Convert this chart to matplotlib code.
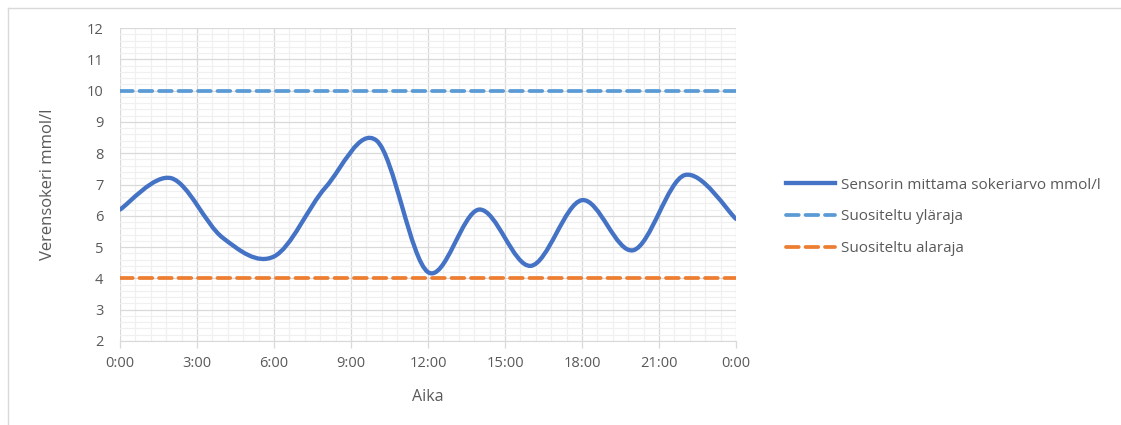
import matplotlib
matplotlib.use('Agg')
import matplotlib.pyplot as plt
import matplotlib.ticker as mticker
from matplotlib.path import Path
from matplotlib.patches import PathPatch
from matplotlib.lines import Line2D
import numpy as np

# --- data ---
tunnit = [0, 2, 4, 6, 8, 10, 12, 14, 16, 18, 20, 22, 24]
sokeri = [6.2, 7.2, 5.3, 4.7, 6.9, 8.4, 4.2, 6.2, 4.4, 6.5, 4.9, 7.3, 5.9]
ylaraja = [10, 10]
alaraja = [4, 4]
raja_x = [0, 24]
x_ticks = [0, 3, 6, 9, 12, 15, 18, 21, 24]
x_labels = ['0:00', '3:00', '6:00', '9:00', '12:00', '15:00', '18:00', '21:00', '0:00']

SININEN = '#4472C4'
VAALEA = '#5B9BD5'
ORANSSI = '#ED7D31'
TEKSTI = '#595959'

plt.rcParams['font.family'] = ['Open Sans', 'DejaVu Sans']

fig = plt.figure(figsize=(11.21, 4.25), dpi=100)
ax = fig.add_axes([120 / 1121, 1 - 341 / 425, 616 / 1121, 313 / 425])

# Excel-tyylinen pehmennetty viiva bezier-käyrinä
pts = np.column_stack([tunnit, sokeri])
verts = [tuple(pts[0])]
codes = [Path.MOVETO]
n = len(pts)
for i in range(n - 1):
    p0 = pts[max(i - 1, 0)]
    p1 = pts[i]
    p2 = pts[i + 1]
    p3 = pts[min(i + 2, n - 1)]
    c1 = p1 + (p2 - p0) / 6
    c2 = p2 - (p3 - p1) / 6
    verts += [tuple(c1), tuple(c2), tuple(p2)]
    codes += [Path.CURVE4] * 3
ax.add_patch(PathPatch(Path(verts, codes), fill=False, edgecolor=SININEN,
                       linewidth=3.1, capstyle='round', joinstyle='round', zorder=3))

ax.plot(raja_x, ylaraja, color=VAALEA, linewidth=2.7, dashes=(3.4, 1.8),
        dash_capstyle='round', zorder=2)
ax.plot(raja_x, alaraja, color=ORANSSI, linewidth=2.7, dashes=(3.4, 1.8),
        dash_capstyle='round', zorder=2)

ax.set_xlim(0, 24)
ax.set_ylim(2, 12)
ax.set_xticks(x_ticks)
ax.set_xticklabels(x_labels)
ax.set_yticks(range(2, 13))
ax.xaxis.set_minor_locator(mticker.MultipleLocator(0.6))
ax.yaxis.set_minor_locator(mticker.MultipleLocator(0.2))
ax.grid(which='major', color='#D9D9D9', linewidth=0.9, zorder=0)
ax.grid(which='minor', color='#F0F0F0', linewidth=0.9, zorder=0)
ax.set_axisbelow(True)

for s in ['top', 'right', 'left']:
    ax.spines[s].set_visible(False)
ax.spines['bottom'].set_color('#D9D9D9')
ax.tick_params(axis='x', which='major', colors='#D9D9D9', length=5, width=0.9,
               labelcolor=TEKSTI, labelsize=10.5, pad=6)
ax.tick_params(axis='x', which='minor', length=0)
ax.tick_params(axis='y', which='both', length=0, labelcolor=TEKSTI, labelsize=10.5, pad=12)

ax.set_xlabel('Aika', color=TEKSTI, fontsize=11.5, labelpad=13)
ax.set_ylabel('Verensokeri mmol/l', color=TEKSTI, fontsize=12, labelpad=22)

handles = [
    Line2D([], [], color=SININEN, linewidth=3.1),
    Line2D([], [], color=VAALEA, linewidth=2.7, dashes=(3.4, 1.8), dash_capstyle='round'),
    Line2D([], [], color=ORANSSI, linewidth=2.7, dashes=(3.4, 1.8), dash_capstyle='round'),
]
labels = ['Sensorin mittama sokeriarvo mmol/l', 'Suositeltu yläraja', 'Suositeltu alaraja']
leg = fig.legend(handles, labels, loc='center left', bbox_to_anchor=(772 / 1121, 1 - 217 / 425),
                 frameon=False, fontsize=11, labelcolor=TEKSTI, handlelength=3.2,
                 labelspacing=1.1, handletextpad=0.4)

# ulkokehys (vasen ja ylä reuna)
kehys = '#D9D9D9'
fig.add_artist(Line2D([7.5 / 1121, 7.5 / 1121], [0, 1 - 7.5 / 425], transform=fig.transFigure,
                      color=kehys, linewidth=1))
fig.add_artist(Line2D([7.5 / 1121, 1], [1 - 7.5 / 425, 1 - 7.5 / 425], transform=fig.transFigure,
                      color=kehys, linewidth=1))

fig.savefig('out.png', dpi=100, facecolor='white')
